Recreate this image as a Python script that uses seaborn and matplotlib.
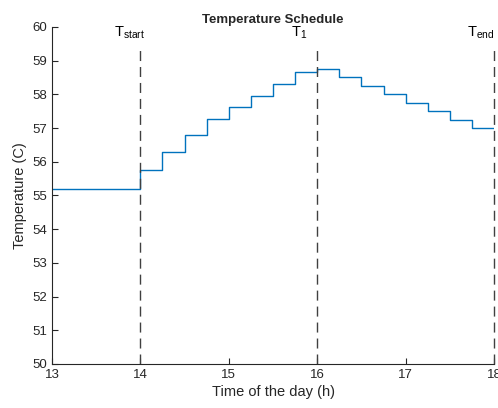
import matplotlib
matplotlib.use("Agg")
import matplotlib.pyplot as plt
import seaborn as sns
import pandas as pd

# Data
time_h = [13.0, 14.0, 14.25, 14.5, 14.75, 15.0, 15.25, 15.5, 15.75,
          16.0, 16.25, 16.5, 16.75, 17.0, 17.25, 17.5, 17.75, 18.0]
temperature = [55.2, 55.75, 56.28, 56.8, 57.28, 57.62, 57.95, 58.3, 58.66,
               58.75, 58.5, 58.25, 58.0, 57.75, 57.5, 57.25, 57.0, 57.0]
marker_times = [14, 16, 18]
marker_labels = [r"$\mathregular{T_{start}}$", r"$\mathregular{T_{1}}$", r"$\mathregular{T_{end}}$"]
x_ticks = [13, 14, 15, 16, 17, 18]
y_ticks = list(range(50, 61))

sns.set_style("ticks")
plt.rcParams["font.family"] = ["Liberation Sans", "DejaVu Sans"]
plt.rcParams["xtick.direction"] = "in"
plt.rcParams["ytick.direction"] = "in"

fig = plt.figure(figsize=(4.98, 4.08), dpi=100)
ax = fig.add_axes([0.1044, 0.108, 0.8876, 0.826])

df = pd.DataFrame({"t": time_h, "T": temperature})
sns.lineplot(data=df, x="t", y="T", ax=ax, drawstyle="steps-post",
             color="#0072BD", linewidth=1.0)

for xt, lab in zip(marker_times, marker_labels):
    ax.plot([xt, xt], [50, 59.4], color="#404040", linestyle=(0, (7.2, 4.3)),
            linewidth=1.0, clip_on=False)
    ax.text(xt - 0.3, 59.7, lab, ha="left", va="baseline", fontsize=10.5,
            color="black")

ax.set_xlim(13, 18)
ax.set_ylim(50, 60)
ax.set_xticks(x_ticks)
ax.set_yticks(y_ticks)
ax.tick_params(labelsize=9.5, length=4, width=0.8, colors="#262626",
               labelcolor="#262626")
for s in ["top", "right"]:
    ax.spines[s].set_visible(False)
for s in ["left", "bottom"]:
    ax.spines[s].set_color("#262626")
    ax.spines[s].set_linewidth(0.8)

ax.set_xlabel("Time of the day (h)", fontsize=10.5, color="#262626", labelpad=3)
ax.set_ylabel("Temperature (C)", fontsize=10.5, color="#262626", labelpad=4)
ax.set_title("Temperature Schedule", fontsize=9.5, fontweight="bold", pad=3)

fig.savefig("out.png", dpi=100)
